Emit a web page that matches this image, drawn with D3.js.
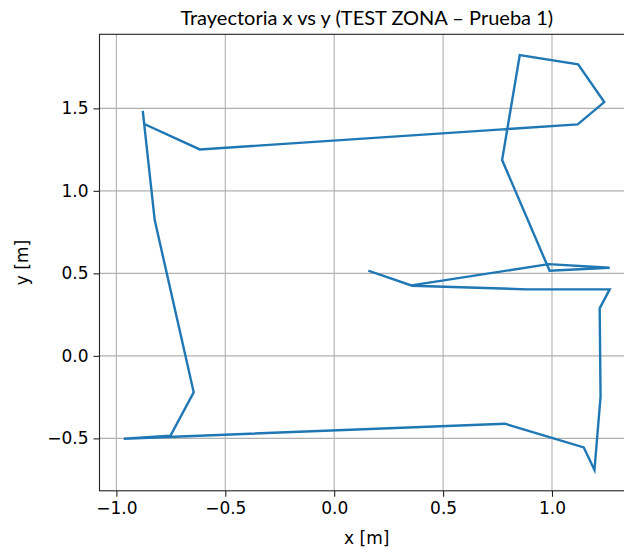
<!DOCTYPE html>
<html>
<head>
<meta charset="utf-8">
<script src="https://cdn.jsdelivr.net/npm/d3@7/dist/d3.min.js"></script>
<style>
  html, body { margin: 0; padding: 0; background: #fff; }
  svg { display: block; }
  text { fill: #000; }
</style>
</head>
<body>
<svg id="chart" width="624" height="550"></svg>
<script>
// Trajectory samples (metres), in the order they were recorded
const xs = [0.162, 0.358, 0.886, 1.265, 1.219, 1.223, 1.195, 1.146, 0.783, -0.966,
            -0.752, -0.645, -0.824, -0.879, -0.872, -0.617, 1.118, 1.240, 1.120, 0.852,
            0.771, 0.989, 1.265, 0.985, 0.360];
const ys = [0.514, 0.425, 0.403, 0.403, 0.288, -0.248, -0.692, -0.555, -0.411, -0.502,
            -0.484, -0.221, 0.823, 1.484, 1.405, 1.251, 1.403, 1.538, 1.767, 1.823,
            1.187, 0.516, 0.534, 0.556, 0.428];

const xTicks = [-1.0, -0.5, 0.0, 0.5, 1.0];
const yTicks = [-0.5, 0.0, 0.5, 1.0, 1.5];

const titleText = "Trayectoria x vs y (TEST ZONA – Prueba 1)";
const xLabel = "x [m]";
const yLabel = "y [m]";

const svg = d3.select("#chart");
const plot = { left: 99.5, top: 34.3, right: 634, bottom: 490.8 };

// 5% padding around the data extent on each axis
function padded(values) {
  const [lo, hi] = d3.extent(values);
  const pad = (hi - lo) * 0.05;
  return [lo - pad, hi + pad];
}

const x = d3.scaleLinear().domain(padded(xs)).range([plot.left, plot.right]);
const y = d3.scaleLinear().domain(padded(ys)).range([plot.bottom, plot.top]);

const tickFmt = v => d3.format(".1f")(v).replace("-", "\u2212");
const fontTicks = "'DejaVu Sans', sans-serif";

// Grid
const grid = svg.append("g");
grid.selectAll("line.vx").data(xTicks).join("line")
  .attr("x1", d => x(d)).attr("x2", d => x(d))
  .attr("y1", plot.top).attr("y2", plot.bottom)
  .attr("stroke", "#b0b0b0").attr("stroke-width", 1.1);
grid.selectAll("line.hy").data(yTicks).join("line")
  .attr("x1", plot.left).attr("x2", plot.right)
  .attr("y1", d => y(d)).attr("y2", d => y(d))
  .attr("stroke", "#b0b0b0").attr("stroke-width", 1.1);

// Trajectory
const pts = xs.map((v, i) => [v, ys[i]]);
svg.append("path")
  .datum(pts)
  .attr("d", d3.line().x(d => x(d[0])).y(d => y(d[1])))
  .attr("fill", "none")
  .attr("stroke", "#1f77b4")
  .attr("stroke-width", 2.4)
  .attr("stroke-linejoin", "miter")
  .attr("stroke-linecap", "square");

// Axes
const xAxis = d3.axisBottom(x).tickValues(xTicks).tickFormat(tickFmt).tickSize(6).tickPadding(5);
const yAxis = d3.axisLeft(y).tickValues(yTicks).tickFormat(tickFmt).tickSize(6).tickPadding(5);

const gx = svg.append("g").attr("transform", `translate(0,${plot.bottom})`).call(xAxis);
const gy = svg.append("g").attr("transform", `translate(${plot.left},0)`).call(yAxis);
[gx, gy].forEach(g => {
  g.select(".domain").remove();
  g.selectAll(".tick line").attr("stroke", "#222").attr("stroke-width", 1.1);
  g.selectAll(".tick text").attr("font-family", fontTicks).attr("font-size", 17).attr("fill", "#222");
});

// Frame
svg.append("rect")
  .attr("x", plot.left).attr("y", plot.top)
  .attr("width", plot.right - plot.left).attr("height", plot.bottom - plot.top)
  .attr("fill", "none").attr("stroke", "#222").attr("stroke-width", 1.1);

// Labels
svg.append("text")
  .attr("x", (plot.left + plot.right) / 2).attr("y", 544)
  .attr("text-anchor", "middle")
  .attr("font-family", fontTicks).attr("font-size", 17).attr("fill", "#222")
  .text(xLabel);

svg.append("text")
  .attr("transform", `translate(28,${(plot.top + plot.bottom) / 2}) rotate(-90)`)
  .attr("text-anchor", "middle")
  .attr("font-family", fontTicks).attr("font-size", 17).attr("fill", "#222")
  .text(yLabel);

svg.append("text")
  .attr("x", (plot.left + plot.right) / 2).attr("y", 25)
  .attr("text-anchor", "middle")
  .attr("font-family", "Lato, 'Open Sans', sans-serif").attr("font-size", 20)
  .text(titleText);
</script>
</body>
</html>
